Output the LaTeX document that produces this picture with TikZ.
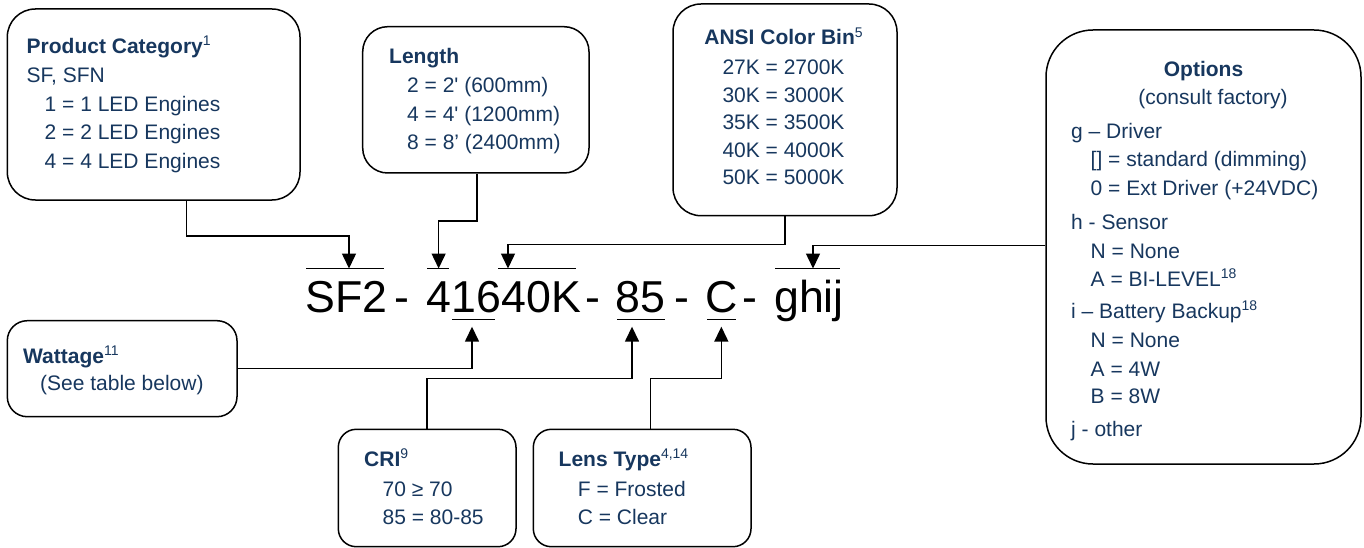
\documentclass[tikz,border=0pt]{standalone}
\usepackage{fontspec}
\usetikzlibrary{arrows.meta}
\newfontfamily\arialf{Liberation Sans}
\definecolor{navy}{RGB}{23,55,94}
\newcommand\supx[1]{\raisebox{7.5pt}{\fontsize{14}{14}\selectfont\mdseries #1}}
\begin{document}
\begin{tikzpicture}[x=1pt,y=-1pt,
  box/.style={draw=black, line width=1.5pt, fill=white, inner sep=0pt},
  txt/.style={inner sep=0pt, anchor=base west, text=navy, font=\arialf\fontsize{21}{25}\selectfont},
  ttl/.style={txt, font=\arialf\bfseries\fontsize{21}{25}\selectfont},
  ctxt/.style={txt, anchor=base},
  cttl/.style={ttl, anchor=base},
  code/.style={inner sep=0pt, anchor=base west, text height=43.3pt, text depth=14.5pt, font=\arialf\fontsize{44.7}{50}\selectfont},
  conn/.style={draw, line width=1.5pt, -{Triangle[length=15pt,width=14pt]}},
  bar/.style={draw, line width=1.5pt}]
\useasboundingbox (0,0) rectangle (1364,548);

% ---------- boxes ----------
\node[box, rounded corners=28pt, minimum width=292.7pt, minimum height=191pt] (pc) at (153.65,104.5) {};
\node[box, rounded corners=25pt, minimum width=226.3pt, minimum height=146.3pt] (ln) at (475.85,99.85) {};
\node[box, rounded corners=28pt, minimum width=224pt, minimum height=211.7pt] (ab) at (785,109.85) {};
\node[box, rounded corners=47pt, minimum width=315pt, minimum height=434pt] (op) at (1203.5,247) {};
\node[box, rounded corners=20pt, minimum width=229.7pt, minimum height=96pt] (wt) at (122.15,368.7) {};
\node[box, rounded corners=18pt, minimum width=177.7pt, minimum height=117.4pt] (cr) at (427.15,488) {};
\node[box, rounded corners=18pt, minimum width=217.7pt, minimum height=117.4pt] (le) at (642.15,488) {};

% ---------- Product Category ----------
\node[ttl] (pc0) at (26.5,53.5) {Product Category\supx{1}};
\node[txt] (pc1) at (26.5,83) {SF, SFN};
\node[txt] (pc2) at (44.5,111.5) {1 = 1 LED Engines};
\node[txt] (pc3) at (44.5,140) {2 = 2 LED Engines};
\node[txt] (pc4) at (44.5,168.5) {4 = 4 LED Engines};

% ---------- Length ----------
\node[ttl] (ln0) at (389,64) {Length};
\node[txt] (ln1) at (407,93) {2 = 2' (600mm)};
\node[txt] (ln2) at (407,121.5) {4 = 4' (1200mm)};
\node[txt] (ln3) at (407,149.5) {8 = 8’ (2400mm)};

% ---------- ANSI Color Bin ----------
\node[cttl] (ab0) at (783.5,45) {ANSI Color Bin\supx{5}};
\node[ctxt] (ab1) at (783.5,75) {27K = 2700K};
\node[ctxt] (ab2) at (783.5,102.7) {30K = 3000K};
\node[ctxt] (ab3) at (783.5,130) {35K = 3500K};
\node[ctxt] (ab4) at (783.5,157.5) {40K = 4000K};
\node[ctxt] (ab5) at (783.5,185) {50K = 5000K};

% ---------- Options ----------
\node[cttl] (op0) at (1203.5,76.7) {Options};
\node[ctxt] (op1) at (1213,105) {(consult factory)};
\node[txt] (op2) at (1071,139) {g – Driver};
\node[txt] (op3) at (1090.5,167) {[] = standard (dimming)};
\node[txt] (op4) at (1090.5,195.7) {0 = Ext Driver (+24VDC)};
\node[txt] (op5) at (1071,229) {h - Sensor};
\node[txt] (op6) at (1090.5,258) {N = None};
\node[txt] (op7) at (1090.5,286) {A = BI-LEVEL\supx{18}};
\node[txt] (op8) at (1071,318.3) {i – Battery Backup\supx{18}};
\node[txt] (op9) at (1090.5,347) {N = None};
\node[txt] (op10) at (1090.5,376) {A = 4W};
\node[txt] (op11) at (1090.5,403.5) {B = 8W};
\node[txt] (op12) at (1071,436.7) {j - other};

% ---------- Wattage ----------
\node[ttl] (wt0) at (23,363) {Wattage\supx{11}};
\node[txt] (wt1) at (40,390) {(See table below)};

% ---------- CRI ----------
\node[ttl] (cr0) at (364,466) {CRI\supx{9}};
\node[txt] (cr1) at (382.5,496.7) {70 ≥ 70};
\node[txt] (cr2) at (382.5,524) {85 = 80-85};

% ---------- Lens Type ----------
\node[ttl] (le0) at (558.5,466) {Lens Type\supx{4,14}};
\node[txt] (le1) at (577.7,496.7) {F = Frosted};
\node[txt] (le2) at (577.7,524) {C = Clear};

% ---------- code line ----------
\node[code] (t1) at (305,312) {SF2};
\node[code] (d1) at (394,312) {-};
\node[code] (t2) at (426,312) {4};
\node[code, at={(t2.base east)}] (t3) {16};
\node[code, at={(t3.base east)}] (t4) {40K};
\node[code] (d2) at (585,312) {-};
\node[code] (t5) at (615.5,312) {85};
\node[code] (d3) at (674,312) {-};
\node[code] (t6) at (705,312) {C};
\node[code] (d4) at (742,312) {-};
\node[code] (t7) at (774,312) {ghij};

% over- and underlines
\draw[bar] (306,268.7) -- (384,268.7);
\draw[bar] (427,268.7) -- (449,268.7);
\draw[bar] (498,268.7) -- (576,268.7);
\draw[bar] (775,268.7) -- (840,268.7);
\draw[bar] (452,319.3) -- (495,319.3);
\draw[bar] (617,319.3) -- (665,319.3);
\draw[bar] (707,319.3) -- (736,319.3);

% ---------- connectors ----------
\draw[conn] (186.7,0 |- pc.south) |- (349,236) -- (349,0 |- t1.north);
\draw[conn] (477,0 |- ln.south) |- (t2.north |- 0,221) -- (t2.north);
\draw[conn] (ab.south) |- (508,244.3) -- (508,0 |- t4.north);
\draw[conn] (op.west |- 0,245.7) -| (813,0 |- t7.north);
\draw[conn] (wt.east) -| (472,0 |- t3.south);
\draw[conn] (cr.north) |- (632,378.3) -- (632,0 |- t5.south);
\draw[conn] (650.7,0 |- le.north) |- (t6.south |- 0,378.3) -- (t6.south);
\end{tikzpicture}
\end{document}
